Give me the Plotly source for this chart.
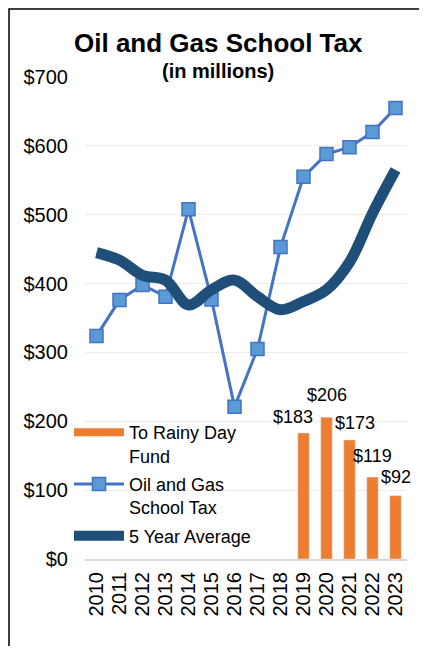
import plotly.graph_objects as go

years = [str(y) for y in range(2010, 2024)]

# Oil and Gas School Tax ($ millions)
school_tax = [324, 376, 398, 381, 508, 377, 221, 305, 453, 555, 588, 598, 620, 655]

# 5 year average ($ millions)
five_year_avg = [445, 434, 412, 405, 369, 391, 405, 381, 362, 374, 391, 431, 502, 565]

# To Rainy Day Fund ($ millions), only 2019-2023
rainy_years = ["2019", "2020", "2021", "2022", "2023"]
rainy_day = [183, 206, 173, 119, 92]

# label nudges (px) so the bar labels don't collide, as in the original
label_dx = [-11, 0, 5, 0, 0]
label_dy = [4, 10, 5, 9, 7]

FONT = "Arial, Liberation Sans, sans-serif"

# the page body has an 8px margin, so the figure is drawn 8px in
OFF = 8
W, H = 427 - OFF, 654 - 2 * OFF
# plot area (screen px): x 85..407, y 77..559
L, R, T, B = 85 - OFF, W - (407 - OFF), 77 - OFF, H - (559 - OFF)
plot_w = W - L - R
plot_h = H - T - B


def px_x(x):
    return (x - OFF - L) / plot_w


def px_y(y):
    return (H - B - (y - OFF)) / plot_h


fig = go.Figure()

fig.add_trace(go.Bar(
    x=rainy_years, y=rainy_day,
    marker_color="#ED7D31",
    showlegend=False,
))
# legend swatch for the bars (wide orange bar like the original)
fig.add_trace(go.Scatter(
    x=[None], y=[None], mode="lines",
    line=dict(color="#ED7D31", width=8),
    name="To Rainy Day<br>Fund", legendgroup="a",
))

fig.add_trace(go.Scatter(
    x=years, y=school_tax, mode="lines+markers",
    line=dict(color="#4472C4", width=3),
    marker=dict(symbol="square", size=13, color="#5B9BD5",
                line=dict(color="#4472C4", width=1.5)),
    name="Oil and Gas<br>School Tax", legendgroup="b",
))

fig.add_trace(go.Scatter(
    x=years, y=five_year_avg, mode="lines",
    line=dict(color="#1F4E79", width=11, shape="spline", smoothing=1),
    name="5 Year Average", legendgroup="c",
))

# bar value labels; category index used for x (numeric-looking strings
# would otherwise be read as positions)
annotations = [
    dict(text=f"${v}", x=years.index(yr), y=v, xref="x", yref="y",
         xanchor="center", yanchor="bottom", xshift=dx, yshift=dy,
         showarrow=False, font=dict(size=18, family=FONT, color="black"))
    for yr, v, dx, dy in zip(rainy_years, rainy_day, label_dx, label_dy)
]
annotations += [
    dict(text="<b>Oil and Gas School Tax</b>", x=px_x(218), xref="paper",
         y=px_y(43), yref="paper", yanchor="middle", showarrow=False,
         font=dict(size=26, family=FONT, color="black")),
    dict(text="<b>(in millions)</b>", x=px_x(218), xref="paper",
         y=px_y(71), yref="paper", yanchor="middle", showarrow=False,
         font=dict(size=20, family=FONT, color="black")),
]

fig.update_layout(
    width=W, height=H,
    margin=dict(l=L, r=R, t=T, b=B, autoexpand=False),
    paper_bgcolor="white", plot_bgcolor="white",
    font=dict(family=FONT, color="black"),
    bargap=0.5,
    showlegend=True,
    legend=dict(
        x=px_x(69), y=px_y(414), xanchor="left", yanchor="top",
        bgcolor="rgba(0,0,0,0)",
        font=dict(size=18, family=FONT, color="black"),
        valign="top", itemwidth=50,
        tracegroupgap=2,
    ),
    xaxis=dict(
        type="category", categoryorder="array", categoryarray=years,
        range=[-0.5, len(years) - 0.5],
        tickmode="array", tickvals=years, ticktext=years,
        tickangle=-90, tickfont=dict(size=20), ticklabelstandoff=3,
        showgrid=False, showline=True, linecolor="#D9D9D9", linewidth=2,
        ticks="", automargin=False,
    ),
    yaxis=dict(
        range=[0, 700], dtick=100, tickprefix="$",
        tickfont=dict(size=20), ticklabelstandoff=16,
        showgrid=True, gridcolor="#EDEDED", gridwidth=1,
        zeroline=False, ticks="", automargin=False,
    ),
    annotations=annotations,
    shapes=[
        dict(type="rect", xref="paper", yref="paper",
             x0=px_x(OFF + 1), x1=px_x(440), y0=px_y(670), y1=px_y(OFF + 1),
             line=dict(color="black", width=1.5), layer="below"),
    ],
)

fig.write_html("out.html")
